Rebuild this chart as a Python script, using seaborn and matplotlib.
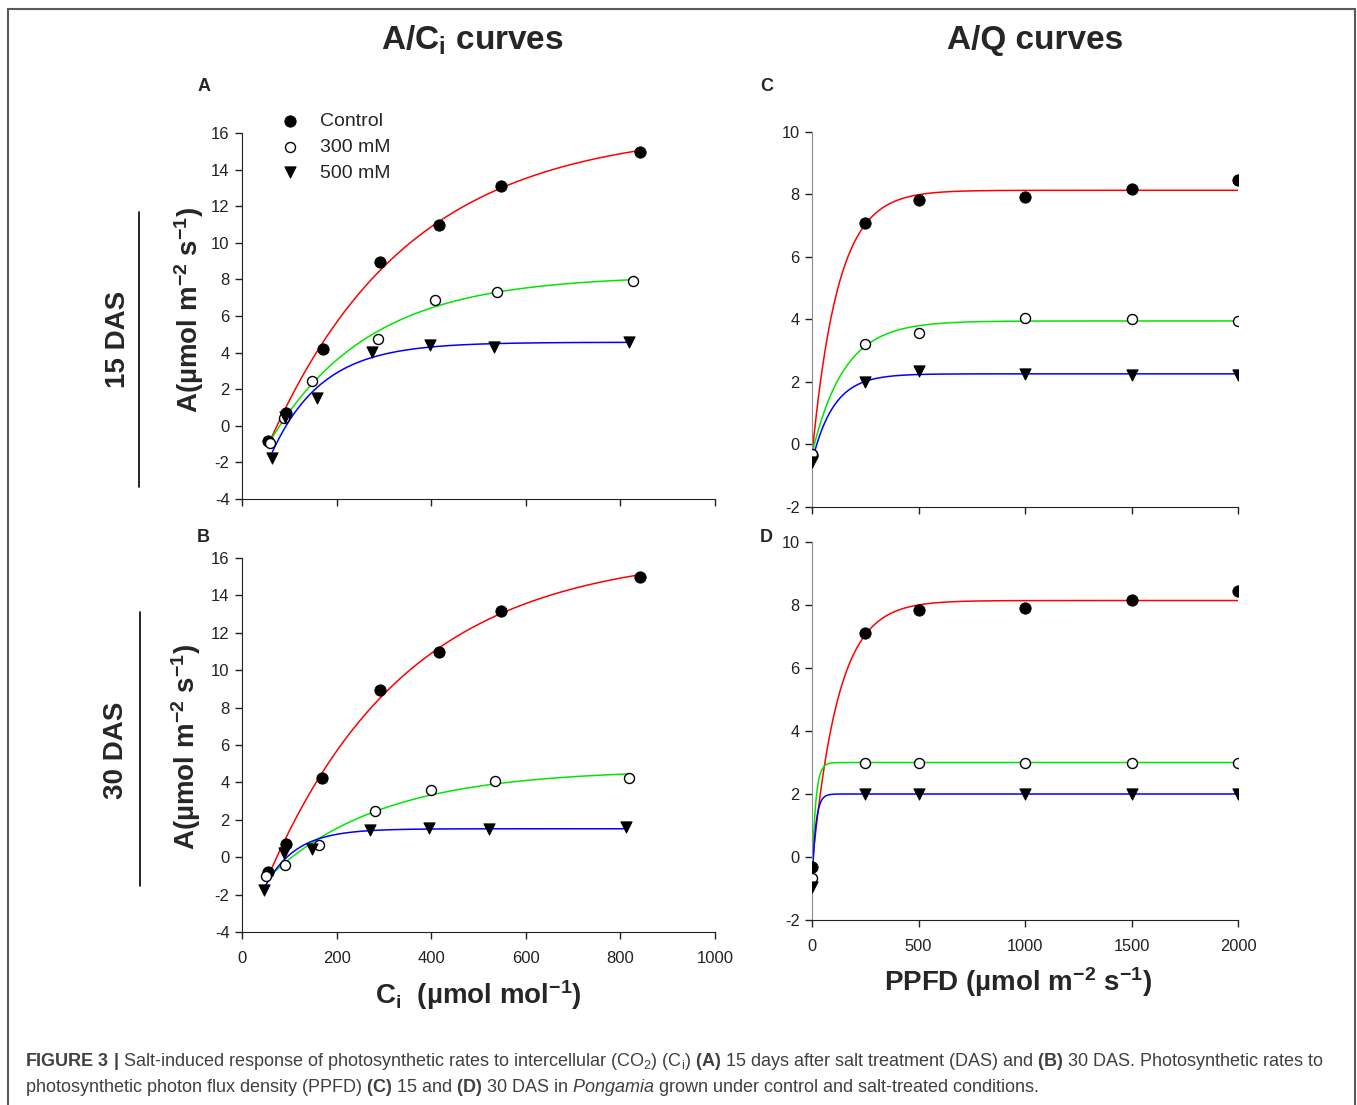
import numpy as np
import matplotlib
matplotlib.use("Agg")
import matplotlib.pyplot as plt
import seaborn as sns
from matplotlib.lines import Line2D
from matplotlib.patches import Rectangle

# ---- data ----
treatments = ["Control", "300 mM", "500 mM"]

# A/Ci, 15 DAS
aci15_ctrl_x = [54, 92, 171, 292, 416, 547, 841]
aci15_ctrl_y = [-0.84, 0.71, 4.22, 8.93, 10.98, 13.13, 14.95]
aci15_300_x = [60, 88, 149, 288, 407, 540, 826]
aci15_300_y = [-0.93, 0.44, 2.47, 4.75, 6.85, 7.29, 7.93]
aci15_500_x = [64, 90, 159, 275, 398, 533, 819]
aci15_500_y = [-1.75, 0.50, 1.53, 4.04, 4.40, 4.31, 4.58]

# A/Ci, 30 DAS
aci30_ctrl_x = [54, 92, 170, 292, 416, 547, 841]
aci30_ctrl_y = [-0.80, 0.71, 4.22, 8.95, 11.00, 13.17, 15.01]
aci30_300_x = [51, 90, 162, 282, 399, 535, 818]
aci30_300_y = [-0.98, -0.41, 0.66, 2.48, 3.57, 4.10, 4.22]
aci30_500_x = [47, 88, 148, 271, 396, 523, 811]
aci30_500_y = [-1.78, 0.21, 0.45, 1.46, 1.55, 1.50, 1.60]

# A/Q
ppfd = [0, 250, 500, 1000, 1500, 2000]
aq15_ctrl = [-0.35, 7.09, 7.82, 7.91, 8.16, 8.46]
aq15_300 = [-0.30, 3.23, 3.57, 4.06, 4.00, 3.95]
aq15_500 = [-0.55, 2.00, 2.35, 2.27, 2.21, 2.21]
aq30_ctrl = [-0.32, 7.10, 7.83, 7.92, 8.17, 8.46]
aq30_300 = [-0.67, 3.00, 3.00, 3.00, 3.00, 3.00]
aq30_500 = [-0.95, 2.00, 2.00, 2.00, 2.00, 2.00]

W, H = 1357, 1105

sns.set_style("ticks")
plt.rcParams["font.family"] = ["Liberation Sans", "DejaVu Sans"]
plt.rcParams["mathtext.fontset"] = "custom"
plt.rcParams["mathtext.rm"] = "Liberation Sans"
plt.rcParams["mathtext.bf"] = "Liberation Sans:bold"
plt.rcParams["mathtext.it"] = "Liberation Sans:italic"
plt.rcParams["mathtext.default"] = "regular"
plt.rcParams["axes.unicode_minus"] = False


def px(x, y):
    return x / W, 1 - y / H


def box(l, t, r, b):
    return [l / W, 1 - b / H, (r - l) / W, (b - t) / H]


def fit_rise(x, y, bmax=0.06):
    # exponential rise to max: y = y0 + a*(1 - exp(-b*x))
    x = np.asarray(x, float)
    y = np.asarray(y, float)
    best = None
    for b in np.geomspace(1e-4, bmax, 3000):
        M = np.column_stack([np.ones_like(x), 1 - np.exp(-b * x)])
        coef = np.linalg.lstsq(M, y, rcond=None)[0]
        r = np.sum((M @ coef - y) ** 2)
        if best is None or r < best[0]:
            best = (r, coef[0], coef[1], b)
    _, y0, a, b = best
    xs = np.linspace(x.min(), x.max(), 400)
    return xs, y0 + a * (1 - np.exp(-b * xs))


line_cols = ["#ff0000", "#00e600", "#0000ff"]
mk = [dict(marker="o", color="black", edgecolor="black", s=66),
      dict(marker="o", color="white", edgecolor="black", s=52, linewidth=1.0),
      dict(marker="v", color="black", edgecolor="black", s=66)]


def draw_panel(ax, series, xlim, ylim, xticks, yticks, spine_col, show_xlabels):
    for i, (xv, yv) in enumerate(series):
        xs, ys = fit_rise(xv, yv)
        sns.lineplot(x=xs, y=ys, ax=ax, color=line_cols[i], lw=1.1,
                     estimator=None, sort=False)
    for i, (xv, yv) in enumerate(series):
        sns.scatterplot(x=xv, y=yv, ax=ax, label=treatments[i], zorder=5,
                        **mk[i])
    ax.set_xlim(*xlim)
    ax.set_ylim(*ylim)
    ax.set_xticks(xticks)
    ax.set_yticks(yticks)
    ax.set_xlabel("")
    ax.set_ylabel("")
    sns.despine(ax=ax)
    ax.spines["left"].set_color(spine_col)
    ax.spines["bottom"].set_color("#222222")
    ax.tick_params(direction="out", length=5, width=1, labelsize=12,
                   colors="#222222", pad=4)
    ax.tick_params(axis="x", pad=9)
    if not show_xlabels:
        ax.set_xticklabels([])
    if ax.get_legend():
        ax.get_legend().remove()


fig = plt.figure(figsize=(W / 100, H / 100), dpi=100)

axA = fig.add_axes(box(242, 133, 715, 499))
axB = fig.add_axes(box(242, 558, 715, 932))
axC = fig.add_axes(box(812, 132, 1238, 507))
axD = fig.add_axes(box(812, 542, 1238, 920))

ci_ticks = np.arange(0, 1001, 200)
a_ticks = np.arange(-4, 17, 2)
q_ticks = np.arange(0, 2001, 500)
aq_yticks = np.arange(-2, 11, 2)

draw_panel(axA, [(aci15_ctrl_x, aci15_ctrl_y), (aci15_300_x, aci15_300_y),
                 (aci15_500_x, aci15_500_y)],
           (0, 1000), (-4, 16), ci_ticks, a_ticks, "#222222", False)
draw_panel(axB, [(aci30_ctrl_x, aci30_ctrl_y), (aci30_300_x, aci30_300_y),
                 (aci30_500_x, aci30_500_y)],
           (0, 1000), (-4, 16), ci_ticks, a_ticks, "#222222", True)
draw_panel(axC, [(ppfd, aq15_ctrl), (ppfd, aq15_300), (ppfd, aq15_500)],
           (0, 2000), (-2, 10), q_ticks, aq_yticks, "#8a8a8a", False)
draw_panel(axD, [(ppfd, aq30_ctrl), (ppfd, aq30_300), (ppfd, aq30_500)],
           (0, 2000), (-2, 10), q_ticks, aq_yticks, "#8a8a8a", True)
for ax in (axC, axD):
    ax.tick_params(labelsize=11.8)

# legend in panel A
h, l = axA.get_legend_handles_labels()
axA.legend(h[-3:], l[-3:], loc="upper left", bbox_to_anchor=px(271, 105),
           bbox_transform=fig.transFigure, frameon=False, fontsize=14,
           handletextpad=0.9, labelspacing=0.41, borderaxespad=0,
           handlelength=1.2)

# titles and panel letters
fig.text(*px(472, 40), r"A/C$_i$ curves", ha="center", va="center",
         fontsize=24, fontweight="bold")
fig.text(*px(1035, 40), "A/Q curves", ha="center", va="center",
         fontsize=24, fontweight="bold")
for letter, (lx, ly) in zip("ABCD", [(204, 87), (203, 537), (767, 87), (766, 537)]):
    fig.text(*px(lx, ly), letter, ha="center", va="center", fontsize=13,
             fontweight="bold")

# row labels
fig.text(*px(118, 339), "15 DAS", rotation=90, ha="center", va="center",
         fontsize=20, fontweight="bold")
fig.text(*px(116, 750), "30 DAS", rotation=90, ha="center", va="center",
         fontsize=20, fontweight="bold")
fig.add_artist(Line2D([139 / W, 139 / W], [1 - 212 / H, 1 - 487 / H],
                      color="black", lw=1.2))
fig.add_artist(Line2D([140 / W, 140 / W], [1 - 612 / H, 1 - 886 / H],
                      color="black", lw=1.2))

ylab = "A(µmol m$^{-2}$ s$^{-1}$)"
fig.text(*px(189, 310), ylab, rotation=90, ha="center", va="center",
         fontsize=20, fontweight="bold")
fig.text(*px(186, 747), ylab, rotation=90, ha="center", va="center",
         fontsize=20, fontweight="bold")
fig.text(*px(478, 995), "C$_i$  (µmol mol$^{-1}$)", ha="center", va="center",
         fontsize=20, fontweight="bold")
fig.text(*px(1018, 982), "PPFD (µmol m$^{-2}$ s$^{-1}$)", ha="center",
         va="center", fontsize=20, fontweight="bold")

# caption
cap1 = (r"$\bf{FIGURE\ 3\ |}$ Salt-induced response of photosynthetic rates to "
        r"intercellular (CO$_2$) (C$_i$) $\bf{(A)}$ 15 days after salt treatment "
        r"(DAS) and $\bf{(B)}$ 30 DAS. Photosynthetic rates to")
cap2 = (r"photosynthetic photon flux density (PPFD) $\bf{(C)}$ 15 and $\bf{(D)}$ "
        r"30 DAS in $\it{Pongamia}$ grown under control and salt-treated conditions.")
t1 = fig.text(*px(25, 1062), cap1, ha="left", va="center", fontsize=12,
              color="#404040")
t2 = fig.text(*px(25, 1087), cap2, ha="left", va="center", fontsize=12,
              color="#404040")
fig.canvas.draw()
wid = t1.get_window_extent().width
fs = 12 * 1300 / wid
t1.set_fontsize(fs)
t2.set_fontsize(fs)

# outer frame
fig.add_artist(Rectangle((8 / W, -0.05), (1355 - 8) / W, 1.05 - 9 / H,
                         transform=fig.transFigure, fill=False,
                         edgecolor="#5a5a5a", lw=1.5))

fig.savefig("out.png", dpi=100)
